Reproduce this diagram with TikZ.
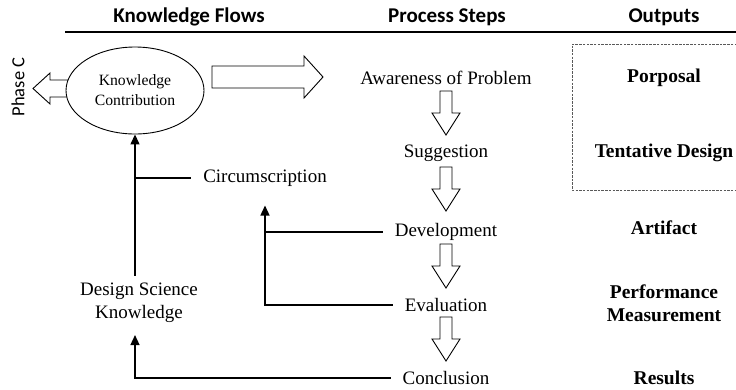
\documentclass[tikz,border=0pt]{standalone}
\usepackage{fontspec}
\setmainfont{Liberation Serif}[BoldFont={Liberation Serif Bold}]
\newfontfamily\headfont{Carlito}[BoldFont={Carlito Bold}]
\usetikzlibrary{arrows.meta,shapes.geometric,calc}

\begin{document}
\begin{tikzpicture}[x=1pt,y=-1pt,
  every node/.style={inner sep=0pt},
  steptext/.style={font=\fontsize{19}{22}\selectfont, inner xsep=12pt},
  outtext/.style={font=\fontsize{19.5}{22.5}\selectfont\bfseries, align=center},
  colhead/.style={font=\headfont\fontsize{21}{24}\selectfont\bfseries},
  flow/.style={line width=1.4pt},
  flowarrow/.style={flow, -{Triangle[width=9pt,length=10pt]}},
  block/.style={draw, fill=white, line width=0.9pt, line join=miter},
  outbox/.style={draw=gray!70!black, line width=0.8pt, dash pattern=on 2.5pt off 1.2pt},
  downblock/.pic={\draw[block] (-6,0) -- (-6,22) -- (-14,22) -- (0,44) -- (14,22) -- (6,22) -- (6,0) -- cycle;}
]
\useasboundingbox (0,0) rectangle (736,389);

% column headings and rule
\node[colhead] (hkf) at (189,17) {Knowledge Flows};
\node[colhead] (hps) at (447,17) {Process Steps};
\node[colhead] (hout) at (664,17) {Outputs};
\draw[line width=2pt] (65,32) -- (736,32);

% process steps
\node[steptext] (aware) at (446,78) {Awareness of Problem};
\node[steptext] (sugg) at (446,153) {Suggestion};
\node[steptext] (dev) at (446,232) {Development};
\node[steptext] (eval) at (446,305) {Evaluation};
\node[steptext] (concl) at (446,378) {Conclusion};

\pic at (446,91) {downblock};
\pic at (446,167) {downblock};
\pic at (446,244) {downblock};
\pic at (446,317) {downblock};

% knowledge contribution with its two block arrows
\draw[block] (68,80) -- (50,80) -- (50,73) -- (33,88.5) -- (50,104) -- (50,97) -- (68,97) -- cycle;
\node[draw, ellipse, fill=white, line width=0.9pt, minimum width=138pt, minimum height=87pt,
      align=center, font=\fontsize{15.7}{20}\selectfont] (kc) at (135,90.5) {Knowledge\\Contribution};
\draw[block] (212,66) -- (304,66) -- (304,56) -- (323,77) -- (304,98) -- (304,88) -- (212,88) -- cycle;
\node[font=\headfont\fontsize{18.5}{21}\selectfont, rotate=90] (phase) at (18,87) {Phase C};

% knowledge flows
\node[steptext] (circ) at (265,178) {Circumscription};
\node[align=center, font=\fontsize{19}{23}\selectfont] (dsk) at (139,303) {Design Science\\Knowledge};

\coordinate (kcjoin) at (kc.south |- circ.west);
\coordinate (circin) at ($(circ.south)+(0,19)$);
\coordinate (dskin) at ($(dsk.south -| kc.south)+(0,12)$);
\coordinate (dskout) at ($(dsk.north -| kc.south)+(0,-7)$);

\draw[flowarrow] (dskout) -- (kc.south);
\draw[flow] (kcjoin) -- (circ.west);
\draw[flowarrow] (eval.west) -| (circin);
\draw[flow] (dev.west) -- (dev.west -| circin);
\draw[flowarrow] (concl.west) -| (dskin);

% outputs
\draw[outbox] (737,44) -| (572,190) -- (737,190);
\node[outtext] (o1) at (664,78) {Porposal};
\node[outtext] (o2) at (664,153) {Tentative Design};
\node[outtext] (o3) at (664,228) {Artifact};
\node[outtext] (o4) at (664,303) {Performance\\Measurement};
\node[outtext] (o5) at (664,378) {Results};
\end{tikzpicture}
\end{document}
